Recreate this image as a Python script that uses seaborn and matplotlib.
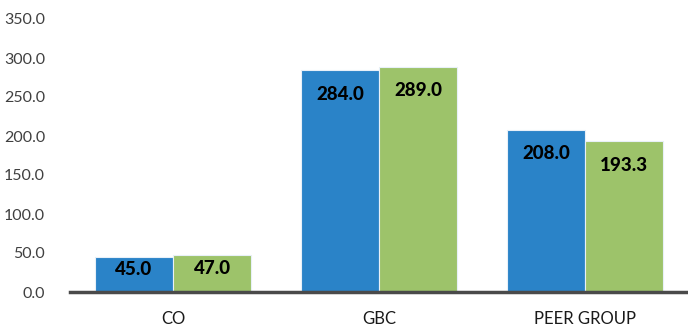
import matplotlib
matplotlib.use("Agg")
import matplotlib.pyplot as plt
import seaborn as sns
import pandas as pd

categories = ["CO", "GBC", "PEER GROUP"]
series_names = ["Series A", "Series B"]
series_a = [45.0, 284.0, 208.0]
series_b = [47.0, 289.0, 193.3]
y_ticks = [0, 50, 100, 150, 200, 250, 300, 350]

BLUE = "#2A83C8"
GREEN = "#9DC36A"


def main():
    df = pd.DataFrame({
        "category": categories * 2,
        "series": [series_names[0]] * 3 + [series_names[1]] * 3,
        "value": series_a + series_b,
    })

    sns.set_style("white")
    plt.rcParams["font.family"] = ["Lato", "DejaVu Sans"]

    fig = plt.figure(figsize=(6.88, 3.29), dpi=100)
    ax = fig.add_axes([70 / 688, 1 - 292 / 329, 618 / 688, (292 - 19) / 329])

    sns.barplot(data=df, x="category", y="value", hue="series",
                palette=[BLUE, GREEN], saturation=1, width=0.76, ax=ax,
                edgecolor="#E8F0F8", linewidth=0.8, legend=False,
                errorbar=None)

    ax.set_ylim(0, 350)
    ax.set_xlim(-0.5, 2.5)
    ax.set_yticks(y_ticks)
    ax.set_yticklabels([f"{t:.1f}" for t in y_ticks], fontsize=11.5, color="#404040")
    ax.tick_params(axis="y", length=0, pad=18)
    ax.tick_params(axis="x", length=0, pad=14, labelsize=12, labelcolor="#1a1a1a")
    ax.set_xlabel("")
    ax.set_ylabel("")

    for side in ["left", "right", "top"]:
        ax.spines[side].set_visible(False)
    ax.spines["bottom"].set_color("#4a4a4a")
    ax.spines["bottom"].set_linewidth(2.5)

    # labels inside bar tops
    px_per_unit = (292 - 19) / 350
    for cont in ax.containers:
        for bar in cont:
            h = bar.get_height()
            hpx = h * px_per_unit
            off = min(24, hpx * 0.35)
            y = h - off / px_per_unit
            ax.text(bar.get_x() + bar.get_width() / 2, y, f"{h:.1f}",
                    ha="center", va="center", fontsize=13.5,
                    fontweight="black", color="black")

    fig.savefig("out.png", dpi=100)


if __name__ == "__main__":
    main()
